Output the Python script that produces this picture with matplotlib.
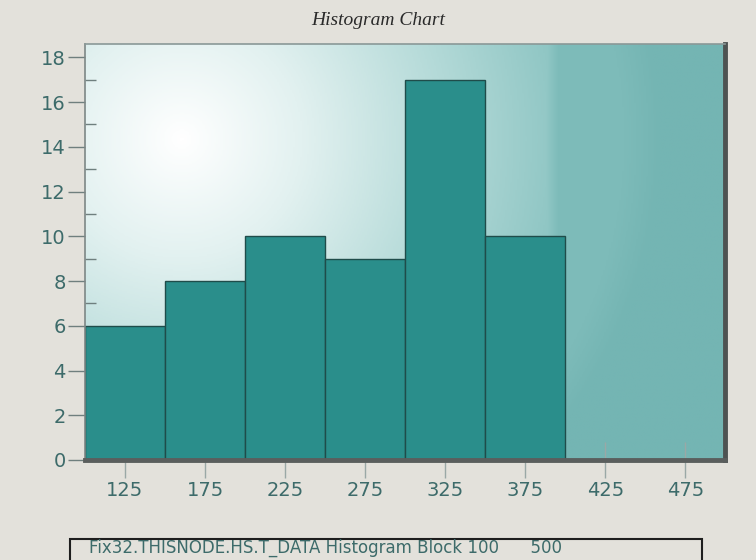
import numpy as np
import matplotlib
matplotlib.use("Agg")
import matplotlib.pyplot as plt
from matplotlib.colors import LinearSegmentedColormap
from matplotlib.patches import Rectangle

# histogram data
bin_edges = [100, 150, 200, 250, 300, 350, 400, 450, 500]
counts = [6, 8, 10, 9, 17, 10, 0, 0]
tick_pos = [125, 175, 225, 275, 325, 375, 425, 475]
y_ticks = [0, 2, 4, 6, 8, 10, 12, 14, 16, 18]

fig = plt.figure(figsize=(7.56, 5.6), dpi=100)
fig.patch.set_facecolor("#e3e1db")

ax = fig.add_axes([0.1124, 0.1786, 0.847, 0.7429])

# radial gradient background, plus the darker band on the right
xs = np.linspace(0, 1, 400)
ys = np.linspace(0, 1, 300)
X, Y = np.meshgrid(xs, ys)
cx, cy = 0.15, 0.77
d = np.sqrt(((X - cx) * 1.0) ** 2 + ((Y - cy) * 0.66) ** 2)
g = np.clip(d / 0.75, 0, 1)
g = np.maximum(g, np.clip((X - 0.62) / 0.12, 0, 1) * 0.92)
cmap = LinearSegmentedColormap.from_list(
    "bg", [(0, "#ffffff"), (0.25, "#e2f1f0"), (0.55, "#b4dad8"), (0.85, "#86c1bf"), (1, "#74b5b3")])
ax.imshow(g, cmap=cmap, extent=(0, 1, 0, 1), origin="lower", aspect="auto",
          transform=ax.transAxes, zorder=0)

widths = np.diff(bin_edges)
ax.bar(bin_edges[:-1], counts, width=widths, align="edge", color="#2a8e8b",
       edgecolor="#1f4c4a", linewidth=1.0, zorder=2)

ax.set_xlim(100, 500)
ax.set_ylim(0, 18.6)
ax.set_xticks(tick_pos)
ax.set_yticks(y_ticks)
ax.set_yticks(range(1, 19, 2), minor=True)

tick_color = "#3d6b6a"
ax.tick_params(axis="x", direction="inout", length=26, width=1, color="#9aa8a6",
               labelsize=14, labelcolor=tick_color, pad=2)
ax.tick_params(axis="y", which="major", direction="out", length=12, width=1,
               color="#6f7f7e", labelsize=14, labelcolor=tick_color, pad=2)
ax.tick_params(axis="y", which="minor", direction="in", length=8, width=1,
               color="#6f7f7e")
for lab in ax.get_xticklabels() + ax.get_yticklabels():
    lab.set_family("Liberation Sans Narrow")

ax.spines["left"].set_color("#7d8786")
ax.spines["left"].set_linewidth(1.2)
ax.spines["top"].set_color("#8a9897")
ax.spines["top"].set_linewidth(1.2)
ax.spines["bottom"].set_color("#5a5e5d")
ax.spines["bottom"].set_linewidth(3.5)
ax.spines["right"].set_color("#4e5352")
ax.spines["right"].set_linewidth(3.5)

fig.text(0.5, 0.963, "Histogram Chart", ha="center", va="center", fontsize=14,
         style="italic", family="Liberation Serif", color="#2a2a2a")

# legend box at bottom
fig.patches.append(Rectangle((0.093, -0.02), 0.835, 0.057, transform=fig.transFigure,
                             facecolor="none", edgecolor="#1e1e1e", linewidth=1.5))
fig.text(0.118, 0.021, "Fix32.THISNODE.HS.T_DATA Histogram Block 100      500",
         ha="left", va="center", fontsize=12, family="Liberation Sans Narrow",
         color="#3d6b6a")

fig.savefig("out.png", dpi=100, facecolor=fig.get_facecolor())
